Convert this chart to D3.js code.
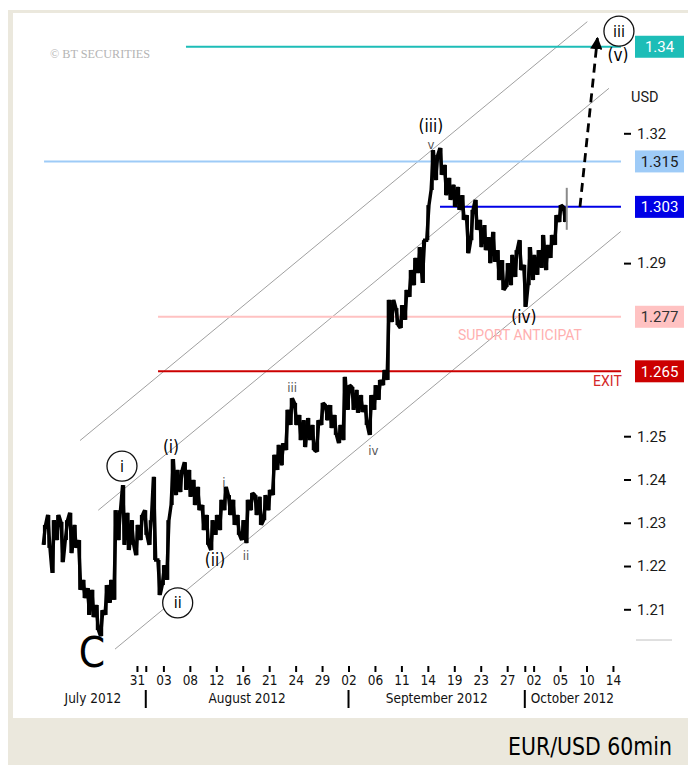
<!DOCTYPE html>
<html><head><meta charset="utf-8">
<script src="https://cdn.jsdelivr.net/npm/d3@7"></script>
<style>html,body{margin:0;padding:0;background:#fff}svg{display:block}</style>
</head><body>
<script>
// ---------- DATA ----------
// price samples every half trading day, starting at trading-day index -10.5 (0 = 31 Jul 2012)
const seriesStart = -10.5;
const seriesStep = 0.5;
const highs = [1.2295,1.2318,1.2306,1.2318,1.2302,1.2306,1.2323,1.2295,1.2260,1.2168,
  1.2149,1.2145,1.2110,1.2098,1.2156,1.2168,1.2329,1.2329,1.2387,1.2323,
  1.2306,1.2295,1.2318,1.2329,1.2306,1.2406,1.2214,1.2202,1.2306,1.2447,
  1.2422,1.2422,1.2440,1.2422,1.2399,1.2383,1.2341,1.2318,1.2306,1.2318,
  1.2353,1.2383,1.2364,1.2353,1.2318,1.2306,1.2353,1.2369,1.2364,1.2360,
  1.2364,1.2376,1.2457,1.2480,1.2484,1.2561,1.2588,1.2577,1.2549,1.2537,
  1.2542,1.2526,1.2537,1.2577,1.2572,1.2572,1.2549,1.2526,1.2637,1.2618,
  1.2614,1.2607,1.2595,1.2572,1.2595,1.2618,1.2630,1.2653,1.2815,1.2815,
  1.2796,1.2803,1.2838,1.2884,1.2912,1.2937,1.2953,1.3034,1.3161,1.3150,
  1.3166,1.3127,1.3097,1.3081,1.3076,1.3057,1.3011,1.3023,1.3046,1.3000,
  1.2988,1.2960,1.2972,1.2930,1.2907,1.2900,1.2919,1.2930,1.2953,1.2896,
  1.2937,1.2919,1.2930,1.2965,1.2942,1.2965,1.3011,1.3034,1.3030];
const lows = [1.2249,1.2242,1.2184,1.2260,1.2209,1.2260,1.2230,1.2242,1.2145,1.2126,
  1.2087,1.2082,1.2052,1.2038,1.2087,1.2115,1.2122,1.2260,1.2249,1.2237,
  1.2249,1.2225,1.2260,1.2272,1.2249,1.2214,1.2133,1.2156,1.2168,1.2341,
  1.2364,1.2371,1.2376,1.2360,1.2341,1.2329,1.2283,1.2249,1.2237,1.2272,
  1.2283,1.2329,1.2318,1.2295,1.2272,1.2260,1.2253,1.2329,1.2318,1.2295,
  1.2306,1.2329,1.2364,1.2422,1.2433,1.2468,1.2526,1.2526,1.2491,1.2475,
  1.2491,1.2468,1.2464,1.2526,1.2537,1.2519,1.2503,1.2484,1.2491,1.2561,
  1.2561,1.2554,1.2556,1.2526,1.2503,1.2561,1.2584,1.2618,1.2630,1.2764,
  1.2757,1.2750,1.2769,1.2822,1.2849,1.2877,1.2854,1.2953,1.3069,1.3092,
  1.3104,1.3057,1.3046,1.3030,1.3023,1.3000,1.2923,1.2953,1.2977,1.2937,
  1.2930,1.2900,1.2903,1.2861,1.2838,1.2845,1.2849,1.2868,1.2884,1.2799,
  1.2849,1.2861,1.2873,1.2889,1.2884,1.2912,1.2942,1.2995,1.2995];
const lastBar = [48.76, 1.3074, 1.2977];          // [trading day, high, low] (unfinished bar)

const yTicks = [1.21, 1.22, 1.23, 1.24, 1.25, 1.29, 1.32];
const xTickDates = ["2012-07-31","2012-08-03","2012-08-08","2012-08-12","2012-08-16","2012-08-21",
  "2012-08-24","2012-08-29","2012-09-02","2012-09-06","2012-09-11","2012-09-14","2012-09-19",
  "2012-09-23","2012-09-27","2012-10-02","2012-10-05","2012-10-10","2012-10-14"];
const xTickLabels = ["31","03","08","12","16","21","24","29","02","06","11","14","19","23","27","02","05","10","14"];
const monthStarts = ["2012-08-01","2012-09-01","2012-10-01"];
const monthNames = ["July 2012","August 2012","September 2012","October 2012"];

const levelLabels = ["1.34","1.315","1.303","1.277","1.265"];
const levelPrices = [1.34, 1.3135, 1.303, 1.2776, 1.265];
const levelFrom = [5.56, -10.54, 34.38, 2.39, 2.39];
const levelTo = 54.91;

// channel lines [t0, p0, t1, p1]
const channels = [[-6.46,1.2490,51.09,1.3458],[-4.39,1.2329,53.55,1.3304],[-2.49,1.2008,54.88,1.2973]];
// projected move [t0,p0,t1,p1]
const projection = [50.26, 1.3030, 52.24, 1.3420];

// wave labels
const bigLabels = [["(iii)",33.35,1.3203],["(i)",3.86,1.2461],["(ii)",8.85,1.2200],["(iv)",43.90,1.2762],["(v)",54.57,1.3367]];
const circled = [["iii",54.68,1.3436],["i",-1.70,1.2431],["ii",4.62,1.2115]];
const smallLabels = [["v",33.35,1.3164],["i",9.87,1.2383],["ii",12.37,1.2214],["iii",17.59,1.2602],["iv",26.83,1.2457]];
const bigC = ["C", -5.10, 1.1967];
const notes = [["SUPORT ANTICIPAT", 43.45, 1.2722], ["EXIT", 55.0, 1.2616]];

// ---------- DRAW ----------
const W = 688, H = 765;
const svg = d3.select("body").append("svg").attr("width", W).attr("height", H);

// frame
svg.append("rect").attr("width", W).attr("height", H).attr("fill", "#fff");
svg.append("rect").attr("x", 8).attr("y", 10).attr("width", W - 8).attr("height", H - 10).attr("fill", "#ebe8dd");
svg.append("rect").attr("x", 13).attr("y", 13).attr("width", W - 13).attr("height", 705).attr("fill", "#fff");

const x = d3.scaleLinear().domain([-11, 54.8]).range([40, 620]);
const y = d3.scaleLinear().domain([1.21, 1.32]).range([609.3, 133.3]);

const base = Date.UTC(2012, 6, 31);
function tIndex(s) {
  const [Y, M, D] = s.split("-").map(Number);
  let d = Date.UTC(Y, M - 1, D);
  while ([0, 6].includes(new Date(d).getUTCDay())) d += 86400000;
  let n = 0;
  for (let c = base; c < d; c += 86400000) if (![0, 6].includes(new Date(c).getUTCDay())) n++;
  return n;
}

// watermark
svg.append("text").attr("x", 50).attr("y", 58).text("© BT SECURITIES")
  .attr("font-family", "Liberation Serif, serif").attr("font-size", 11.5).attr("fill", "#b4b4b4")
  .attr("textLength", 100).attr("lengthAdjust", "spacingAndGlyphs");

// channel lines
svg.append("g").selectAll("line").data(channels).join("line")
  .attr("x1", d => x(d[0])).attr("y1", d => y(d[1]))
  .attr("x2", d => x(d[2])).attr("y2", d => y(d[3]))
  .attr("stroke", "#a0a0a0").attr("stroke-width", 1);

// level lines
const levelColors = ["#1dbdb7", "#9ecbf7", "#0000e6", "#ffc2c2", "#cc0000"];
const levelTextColors = ["#ffffff", "#1a1a1a", "#ffffff", "#333333", "#ffffff"];
svg.append("g").selectAll("line").data(levelPrices).join("line")
  .attr("x1", (d, i) => x(levelFrom[i])).attr("x2", x(levelTo))
  .attr("y1", d => y(d)).attr("y2", d => y(d))
  .attr("stroke", (d, i) => levelColors[i]).attr("stroke-width", 2);

// price series: zigzag through each half-day high/low
const pts = [];
highs.forEach((h, i) => {
  const t = seriesStart + i * seriesStep, l = lows[i];
  const prevMid = i > 0 ? (highs[i - 1] + lows[i - 1]) / 2 : (h + l) / 2;
  const nextMid = i < highs.length - 1 ? (highs[i + 1] + lows[i + 1]) / 2 : (h + l) / 2;
  if (nextMid >= prevMid) { pts.push([t - 0.13, l], [t + 0.13, h]); }
  else { pts.push([t - 0.13, h], [t + 0.13, l]); }
});
svg.append("path").datum(pts)
  .attr("d", d3.line().x(d => x(d[0])).y(d => y(d[1])))
  .attr("fill", "none").attr("stroke", "#000").attr("stroke-width", 3.4)
  .attr("stroke-linejoin", "miter").attr("stroke-miterlimit", 2);
svg.append("g").selectAll("line").data(highs).join("line")
  .attr("x1", (d, i) => x(seriesStart + i * seriesStep)).attr("x2", (d, i) => x(seriesStart + i * seriesStep))
  .attr("y1", d => y(d)).attr("y2", (d, i) => y(lows[i]))
  .attr("stroke", "#000").attr("stroke-width", 3);
svg.append("line").attr("x1", x(lastBar[0])).attr("x2", x(lastBar[0]))
  .attr("y1", y(lastBar[1])).attr("y2", y(lastBar[2])).attr("stroke", "#8a8a8a").attr("stroke-width", 2);

// projection arrow
svg.append("defs").append("marker").attr("id", "ah").attr("viewBox", "0 0 10 10")
  .attr("refX", 9).attr("refY", 5).attr("markerWidth", 4.4).attr("markerHeight", 4.4)
  .attr("orient", "auto").attr("markerUnits", "strokeWidth")
  .append("path").attr("d", "M0,0L10,5L0,10Z").attr("fill", "#000");
svg.append("line").attr("x1", x(projection[0])).attr("y1", y(projection[1]))
  .attr("x2", x(projection[2])).attr("y2", y(projection[3]))
  .attr("stroke", "#000").attr("stroke-width", 2.8).attr("stroke-dasharray", "9,6")
  .attr("marker-end", "url(#ah)");

// right y axis
const yAxis = svg.append("g").attr("transform", "translate(624,0)")
  .call(d3.axisRight(y).tickValues(yTicks).tickFormat(d3.format(".2f")).tickSize(7).tickPadding(6));
yAxis.select(".domain").remove();
yAxis.selectAll(".tick line").attr("stroke", "#000").attr("stroke-width", 2);
yAxis.selectAll(".tick text").attr("font-family", "Roboto, sans-serif").attr("font-size", 15).attr("fill", "#1a1a1a");
svg.append("text").attr("x", 631).attr("y", 102).text("USD")
  .attr("font-family", "Roboto, sans-serif").attr("font-size", 14.5).attr("fill", "#1a1a1a");
svg.append("line").attr("x1", 636).attr("x2", 672).attr("y1", 640).attr("y2", 640).attr("stroke", "#c0c0c0");

// level label boxes
const boxes = svg.append("g").selectAll("g").data(levelPrices).join("g")
  .attr("transform", d => `translate(635,${y(d)})`);
boxes.append("rect").attr("x", 0).attr("y", -11).attr("width", 49).attr("height", 22)
  .attr("fill", (d, i) => levelColors[i]);
boxes.append("text").attr("x", 24.5).attr("y", 5.5).attr("text-anchor", "middle")
  .text((d, i) => levelLabels[i]).attr("fill", (d, i) => levelTextColors[i])
  .attr("font-family", "Roboto, sans-serif").attr("font-size", 15);

// notes
svg.append("text").attr("x", x(notes[0][1])).attr("y", y(notes[0][2])).attr("text-anchor", "middle")
  .text(notes[0][0]).attr("fill", "#ffb0b0").attr("font-family", "Roboto, sans-serif").attr("font-size", 14)
  .attr("textLength", 124).attr("lengthAdjust", "spacingAndGlyphs");
svg.append("text").attr("x", x(notes[1][1])).attr("y", y(notes[1][2])).attr("text-anchor", "end")
  .text(notes[1][0]).attr("fill", "#d42828").attr("font-family", "Roboto, sans-serif").attr("font-size", 14);

// bottom x axis
const monthTickIdx = [monthStarts[0], monthStarts[2]].map(tIndex);
const tickIdx = xTickDates.map(tIndex);
const xAxis = svg.append("g").attr("transform", "translate(0,666)")
  .call(d3.axisBottom(x).tickValues(tickIdx.concat(monthTickIdx)).tickSize(6).tickPadding(3)
    .tickFormat((d, i) => i < xTickLabels.length ? xTickLabels[i] : ""));
xAxis.select(".domain").remove();
xAxis.selectAll(".tick line").attr("stroke", "#000").attr("stroke-width", 2);
xAxis.selectAll(".tick text").attr("font-family", "Liberation Sans Narrow, DejaVu Sans Condensed, sans-serif")
  .attr("font-size", 13.5).attr("fill", "#111");

const bounds = [x.domain()[0]].concat(monthStarts.map(tIndex), [x.domain()[1]]);
svg.append("g").selectAll("line").data(monthStarts).join("line")
  .attr("x1", d => x(tIndex(d))).attr("x2", d => x(tIndex(d)))
  .attr("y1", 690).attr("y2", 708).attr("stroke", "#000").attr("stroke-width", 2);
svg.append("g").selectAll("text").data(monthNames).join("text")
  .attr("x", (d, i) => x((bounds[i] + bounds[i + 1]) / 2)).attr("y", 703).attr("text-anchor", "middle")
  .text(d => d).attr("font-family", "Liberation Sans Narrow, DejaVu Sans Condensed, sans-serif")
  .attr("font-size", 13.5).attr("fill", "#111");

// wave labels
svg.append("g").selectAll("text").data(bigLabels).join("text")
  .attr("x", d => x(d[1])).attr("y", d => y(d[2])).attr("text-anchor", "middle").text(d => d[0])
  .attr("font-family", "DejaVu Sans Condensed, DejaVu Sans, sans-serif").attr("font-size", 17).attr("fill", "#000");
svg.append("g").selectAll("text").data(smallLabels).join("text")
  .attr("x", d => x(d[1])).attr("y", d => y(d[2])).attr("text-anchor", "middle").text(d => d[0])
  .attr("font-family", "DejaVu Sans Condensed, DejaVu Sans, sans-serif").attr("font-size", 13).attr("fill", "#555");
const circ = svg.append("g").selectAll("g").data(circled).join("g")
  .attr("transform", d => `translate(${x(d[1])},${y(d[2])})`);
circ.append("circle").attr("r", 15).attr("fill", "#fff").attr("stroke", "#111").attr("stroke-width", 1.3);
circ.append("text").attr("y", 5.5).attr("text-anchor", "middle").text(d => d[0])
  .attr("font-family", "DejaVu Sans Condensed, DejaVu Sans, sans-serif").attr("font-size", 16).attr("fill", "#000");
svg.append("text").attr("x", x(bigC[1])).attr("y", y(bigC[2])).attr("text-anchor", "middle").text(bigC[0])
  .attr("font-family", "Liberation Sans Narrow, DejaVu Sans Condensed, sans-serif").attr("font-size", 42).attr("fill", "#000");

// title band text
svg.append("text").attr("x", 672).attr("y", 755).attr("text-anchor", "end").text("EUR/USD 60min")
  .attr("font-family", "Liberation Sans Narrow, DejaVu Sans Condensed, sans-serif").attr("font-size", 25).attr("fill", "#000")
  .attr("textLength", 164).attr("lengthAdjust", "spacingAndGlyphs");
</script>
</body></html>
